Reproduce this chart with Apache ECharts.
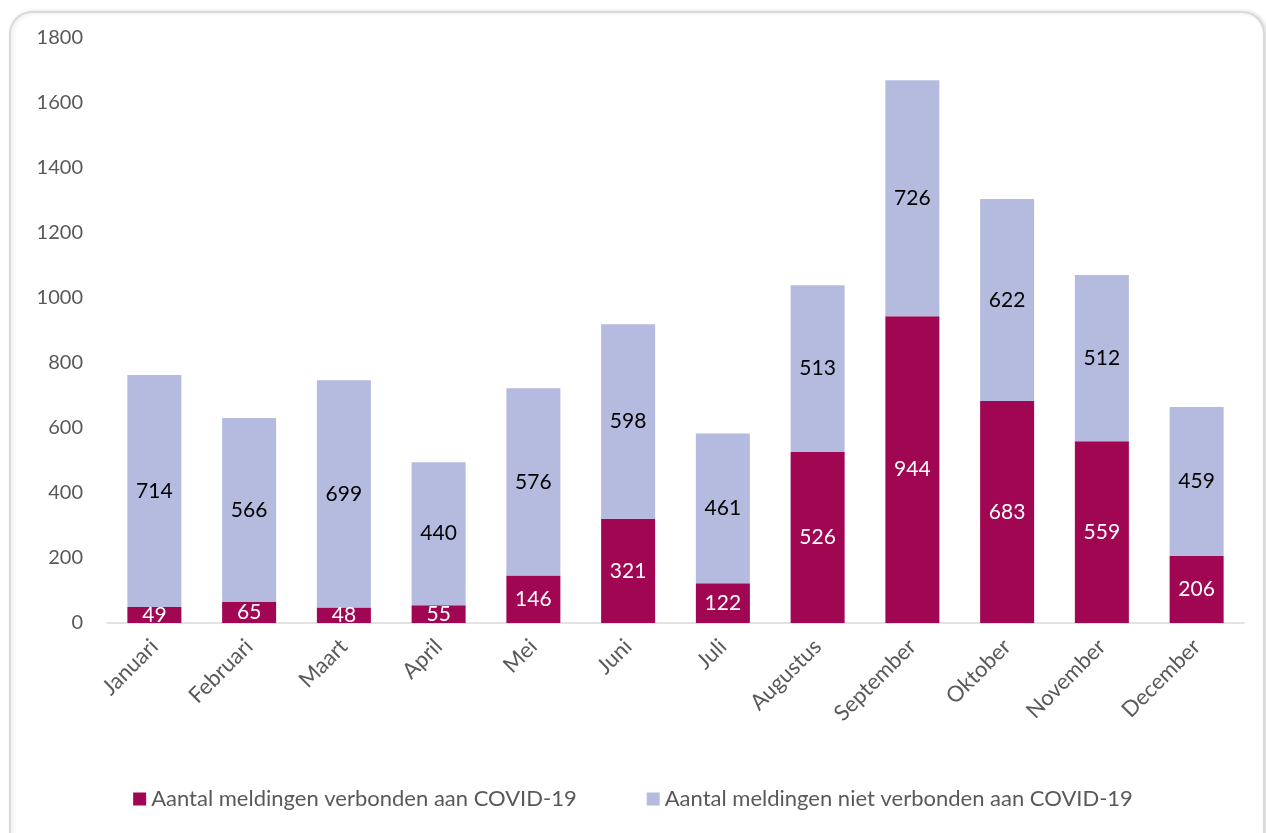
<!DOCTYPE html>
<html><head><meta charset="utf-8">
<script src="https://cdn.jsdelivr.net/npm/echarts@6/dist/echarts.min.js"></script>
<style>html,body{margin:0;padding:0;background:#fff}#c{width:1266px;height:833px}</style>
</head><body><div id="c"></div>
<script>
const categories = ['Januari','Februari','Maart','April','Mei','Juni','Juli','Augustus','September','Oktober','November','December'];
const covid = [49,65,48,55,146,321,122,526,944,683,559,206];
const nonCovid = [714,566,699,440,576,598,461,513,726,622,512,459];
const seriesNames = ['Aantal meldingen verbonden aan COVID-19','Aantal meldingen niet verbonden aan COVID-19'];
const FONT = 'Lato';
const chart = echarts.init(document.getElementById('c'), null, {renderer:'canvas'});
chart.setOption({
  animation:false,
  textStyle:{fontFamily:FONT},
  graphic:[{type:'rect',z:-1,shape:{x:10,y:12,width:1254,height:850,r:22},style:{fill:'#fff',stroke:'#d9d9d9',lineWidth:2,shadowColor:'rgba(0,0,0,0.12)',shadowBlur:4,shadowOffsetX:2}}],
  grid:{left:107,right:22,top:38,bottom:210},
  legend:{bottom:18,left:'center',itemGap:70,itemWidth:13,itemHeight:13,icon:'rect',
    textStyle:{fontFamily:FONT,fontSize:22,color:'#595959'}},
  xAxis:{type:'category',data:categories,
    axisLine:{lineStyle:{color:'#d9d9d9',width:1.5}},axisTick:{show:false},
    axisLabel:{rotate:45,margin:20,fontSize:22,color:'#595959',fontFamily:FONT,interval:0}},
  yAxis:{type:'value',min:0,max:1800,interval:200,
    axisLine:{show:false},axisTick:{show:false},splitLine:{show:false},
    axisLabel:{margin:24,fontSize:20,color:'#595959',fontFamily:FONT,formatter:v=>String(v)}},
  series:[
    {name:seriesNames[0],type:'bar',stack:'a',data:covid,barWidth:'57%',
      itemStyle:{color:'#A10653'},
      label:{show:true,position:'inside',color:'#fff',fontSize:21,fontFamily:FONT}},
    {name:seriesNames[1],type:'bar',stack:'a',data:nonCovid,barWidth:'57%',
      itemStyle:{color:'#B4BBDF'},
      label:{show:true,position:'inside',color:'#000',fontSize:21,fontFamily:FONT}}
  ]
});
</script></body></html>
